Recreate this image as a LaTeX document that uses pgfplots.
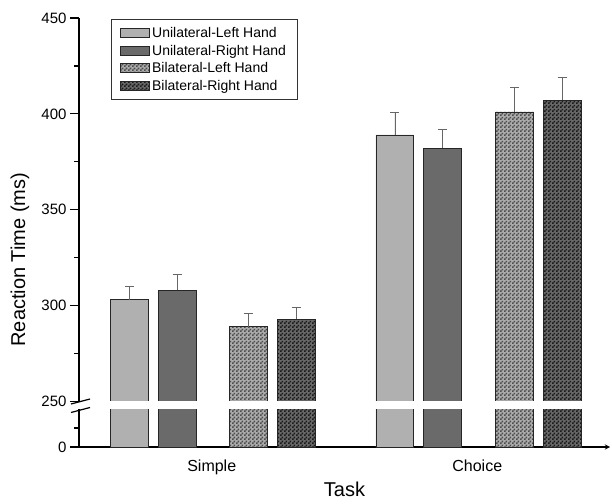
\documentclass[border=0pt]{standalone}
\usepackage{fontspec}
\setmainfont{Liberation Sans}
\usepackage{pgfplots}
\usepackage{pgfplotstable}
\pgfplotsset{compat=1.18}
\usetikzlibrary{patterns}

\definecolor{ulhfill}{HTML}{B0B0B0}
\definecolor{ulrfill}{HTML}{6A6A6A}
\definecolor{bllfill}{HTML}{ABABAB}
\definecolor{brhfill}{HTML}{686868}

% small checkerboard fill for the bilateral bars
\pgfdeclarepatternformonly{checker}{\pgfqpoint{0pt}{0pt}}{\pgfqpoint{4pt}{4pt}}{\pgfqpoint{4pt}{4pt}}{%
  \pgfpathrectangle{\pgfqpoint{0pt}{0pt}}{\pgfqpoint{2pt}{2pt}}%
  \pgfpathrectangle{\pgfqpoint{2pt}{2pt}}{\pgfqpoint{2pt}{2pt}}%
  \pgfusepath{fill}}

% x = position, y = mean RT (ms), e = error (ms)
\pgfplotstableread{
x    y   e
0.69 303 7
1.69 389 12
}\ulhdata
\pgfplotstableread{
x    y   e
0.87 308 8
1.87 382 10
}\ulrdata
\pgfplotstableread{
x    y   e
1.14 289 7
2.14 401 13
}\blldata
\pgfplotstableread{
x    y   e
1.32 293 6
2.32 407 12
}\brhdata

\pgfplotsset{
  ulh/.style={fill=ulhfill, draw=black!85, line width=0.9pt},
  ulr/.style={fill=ulrfill, draw=black!85, line width=0.9pt},
  bll/.style={fill=bllfill, draw=black!85, line width=0.9pt,
    postaction={pattern=checker, pattern color=black!70}},
  brh/.style={fill=brhfill, draw=black!85, line width=0.9pt,
    postaction={pattern=checker, pattern color=black!90}},
  rtcommon/.style={
    scale only axis,
    width=531pt,
    xmin=0.5, xmax=2.5,
    ybar, bar width=0.143, bar shift=0pt,
    axis y line=left,
    axis line style={-, line width=1.3pt},
    tick align=outside,
    major tick length=9pt,
    minor tick length=5pt,
    tick style={line width=1.2pt, black},
    ticklabel style={font=\fontsize{15}{18}\selectfont},
    /pgf/number format/assume math mode=true,
  },
}

\begin{document}
\begin{tikzpicture}
\useasboundingbox (0,0) rectangle (612pt,503pt);

% upper part, 250 to 450
\begin{axis}[
    rtcommon,
    at={(79pt,101.5pt)}, anchor=south west,
    height=383.5pt,
    ymin=250, ymax=450,
    axis x line=none,
    ytick={250,300,350,400,450},
    minor ytick={275,325,375,425},
    ylabel={Reaction Time (ms)},
    ylabel style={font=\fontsize{20}{24}\selectfont,
      at={(axis description cs:-0.111,0.37)}, anchor=center},
    legend style={at={(0.06,0.997)}, anchor=north west,
      draw=black!80, line width=0.8pt,
      font=\fontsize{14}{16}\selectfont,
      row sep=1.8pt, inner xsep=9pt, inner ysep=6pt},
    legend cell align=left,
    legend image code/.code={\draw[#1] (0pt,-4.5pt) rectangle (29pt,4.5pt);},
    error bars/error bar style={black!60, line width=0.9pt},
    error bars/error mark options={black!60, rotate=90, mark size=4.5pt, line width=0.9pt},
  ]
  \addplot[ulh, error bars/.cd, y dir=plus, y explicit]
    table[x=x, y=y, y error=e]{\ulhdata};
  \addplot[ulr, error bars/.cd, y dir=plus, y explicit]
    table[x=x, y=y, y error=e]{\ulrdata};
  \addplot[bll, error bars/.cd, y dir=plus, y explicit]
    table[x=x, y=y, y error=e]{\blldata};
  \addplot[brh, error bars/.cd, y dir=plus, y explicit]
    table[x=x, y=y, y error=e]{\brhdata};
  \legend{Unilateral-Left Hand, Unilateral-Right Hand, Bilateral-Left Hand, Bilateral-Right Hand}
\end{axis}

% lower part, 0 to 250
\begin{axis}[
    rtcommon,
    at={(79pt,56pt)}, anchor=south west,
    height=38pt,
    ymin=0, ymax=250,
    axis x line=bottom,
    ytick={0}, minor ytick={125},
    xtick={1,2}, xticklabels={Simple, Choice},
    xtick style={draw=none},
    xticklabel style={font=\fontsize{16}{19}\selectfont, yshift=-5pt},
    xlabel={Task},
    xlabel style={font=\fontsize{20}{24}\selectfont,
      at={(axis description cs:0.5,-1.12)}, anchor=center},
  ]
  \addplot[ulh] table[x=x, y=y]{\ulhdata};
  \addplot[ulr] table[x=x, y=y]{\ulrdata};
  \addplot[bll] table[x=x, y=y]{\blldata};
  \addplot[brh] table[x=x, y=y]{\brhdata};
\end{axis}

% white gap of the axis break, and its marks
\fill[white] (80.2pt,95pt) rectangle (612pt,102.1pt);
\draw[line width=1.2pt] (71pt,99pt) -- (90pt,104pt);
\draw[line width=1.2pt] (71pt,90.5pt) -- (90pt,95.5pt);
\end{tikzpicture}
\end{document}
